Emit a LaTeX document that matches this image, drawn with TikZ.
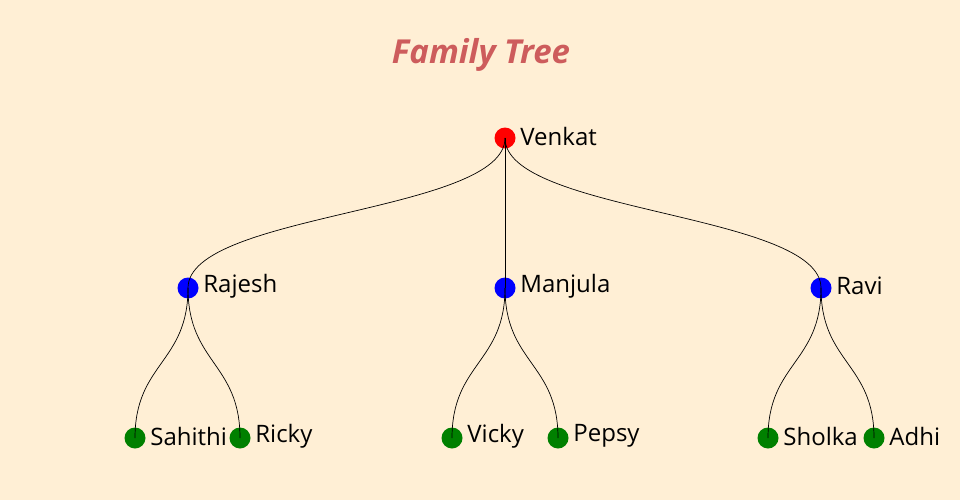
\documentclass[tikz,border=0pt]{standalone}
\usepackage{fontspec}
\setmainfont{Open Sans}
\usepackage{tikz}
\usetikzlibrary{positioning,calc}
\definecolor{paper}{RGB}{255,239,213}
\definecolor{titlered}{RGB}{205,92,92}
\definecolor{leafgreen}{RGB}{0,128,0}
\begin{document}
\begin{tikzpicture}[x=1pt,y=-1pt,
  person/.style={circle,inner sep=0pt,minimum size=21pt,label={[label distance=0pt,inner sep=4.5pt,yshift=2pt,font=\fontsize{24}{28}\selectfont]right:#1}},
  root/.style={person=#1,fill=red},
  parent/.style={person=#1,fill=blue},
  child/.style={person=#1,fill=leafgreen},
  edge/.style={draw=black,line width=0.7pt}]

\newcommand{\halfgap}{75}
\newcommand{\link}[2]{\draw[edge] (#1.center) .. controls ($(#1.center)+(0,\halfgap)$) and ($(#2.center)+(0,-\halfgap)$) .. (#2.center);}

\fill[paper] (0,0) rectangle (960,500);
\useasboundingbox (0,0) rectangle (960,500);

\node[font=\fontsize{33}{40}\selectfont\bfseries\itshape,text=titlered] (title) at (481,55) {Family Tree};

% generations
\node[root=Venkat] (venkat) at (505,138) {};

\node[parent=Rajesh] (rajesh) at (188,288) {};
\node[parent=Manjula] (manjula) at (505,288) {};
\node[parent=Ravi] (ravi) at (821,288) {};

\node[child=Sahithi] (sahithi) at (135,438) {};
\node[child=Ricky] (ricky) at (240,438) {};
\node[child=Vicky] (vicky) at (452,438) {};
\node[child=Pepsy] (pepsy) at (558,438) {};
\node[child=Sholka] (sholka) at (768,438) {};
\node[child=Adhi] (adhi) at (874,438) {};

% links
\link{venkat}{rajesh}
\link{venkat}{manjula}
\link{venkat}{ravi}
\link{rajesh}{sahithi}
\link{rajesh}{ricky}
\link{manjula}{vicky}
\link{manjula}{pepsy}
\link{ravi}{sholka}
\link{ravi}{adhi}

\end{tikzpicture}
\end{document}
